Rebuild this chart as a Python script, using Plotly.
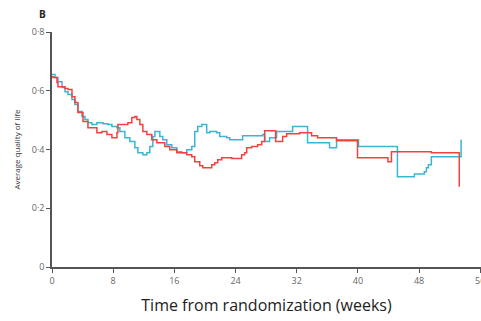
import plotly.graph_objects as go

# Blue arm (weeks, average QoL)
blue_weeks = [0, 0.39, 0.78, 1.31, 1.70, 2.09, 2.61, 3.00, 3.39, 3.92, 4.31, 4.70, 5.22, 5.87,
              6.27, 6.66, 7.31, 7.83, 8.49, 8.88, 9.53, 10.18, 10.84, 11.23, 11.88, 12.40,
              12.79, 13.19, 13.45, 13.84, 14.10, 14.49, 15.01, 15.67, 16.32, 16.97, 17.62,
              18.28, 18.67, 19.06, 19.58, 20.23, 20.63, 21.54, 21.93, 22.85, 23.24, 24.93,
              27.55, 27.81, 28.46, 29.37, 31.46, 33.42, 36.29, 37.21, 40.08, 45.17, 47.39,
              48.69, 48.96, 49.22, 49.61, 53.5]
blue_qol = [0.655, 0.645, 0.631, 0.611, 0.597, 0.587, 0.570, 0.553, 0.529, 0.512, 0.502, 0.491,
            0.485, 0.491, 0.491, 0.488, 0.485, 0.478, 0.474, 0.461, 0.440, 0.427, 0.406, 0.389,
            0.382, 0.389, 0.410, 0.444, 0.461, 0.461, 0.444, 0.433, 0.416, 0.406, 0.392, 0.389,
            0.399, 0.410, 0.461, 0.478, 0.485, 0.457, 0.461, 0.457, 0.444, 0.440, 0.433, 0.447,
            0.451, 0.427, 0.440, 0.461, 0.478, 0.423, 0.406, 0.433, 0.410, 0.307, 0.317,
            0.324, 0.338, 0.348, 0.375, 0.433]

# Red arm
red_weeks = [0, 0.13, 0.65, 0.78, 1.70, 2.09, 2.61, 3.00, 3.39, 4.05, 4.70, 5.87, 6.53, 7.18,
             7.83, 8.49, 8.62, 9.92, 10.44, 10.84, 11.10, 11.49, 11.88, 12.40, 13.05, 13.71,
             14.75, 15.40, 16.32, 17.62, 18.28, 18.67, 19.32, 19.71, 20.89, 21.28, 21.67,
             22.19, 23.50, 24.80, 25.20, 25.46, 26.11, 26.89, 27.42, 27.81, 29.24, 30.16,
             30.68, 32.38, 33.94, 34.73, 37.21, 39.95, 43.93, 44.39, 49.61, 53.26]
red_qol = [0.648, 0.645, 0.628, 0.614, 0.608, 0.604, 0.580, 0.560, 0.526, 0.495, 0.474, 0.457,
           0.461, 0.451, 0.440, 0.457, 0.485, 0.491, 0.509, 0.512, 0.502, 0.485, 0.461, 0.451,
           0.433, 0.423, 0.410, 0.399, 0.389, 0.382, 0.375, 0.358, 0.345, 0.338, 0.348, 0.355,
           0.365, 0.372, 0.369, 0.382, 0.389, 0.406, 0.410, 0.416, 0.427, 0.464, 0.427, 0.444,
           0.454, 0.457, 0.447, 0.440, 0.430, 0.372, 0.358, 0.392, 0.389, 0.273]

x_ticks = [0, 8, 16, 24, 32, 40, 48, 56]
y_ticks = [0, 0.2, 0.4, 0.6, 0.8]
y_tick_labels = ["0", "0·2", "0·4", "0·6", "0·8"]

fig = go.Figure()
fig.add_trace(go.Scatter(x=blue_weeks, y=blue_qol, mode="lines", line_shape="hv",
                         line=dict(color="#3AB5D3", width=1.5), showlegend=False))
fig.add_trace(go.Scatter(x=red_weeks, y=red_qol, mode="lines", line_shape="hv",
                         line=dict(color="#F0433F", width=1.5), showlegend=False))

fig.update_layout(
    width=481, height=321,
    margin=dict(l=52, r=0, t=32, b=54),
    paper_bgcolor="white", plot_bgcolor="white",
    font=dict(family="Open Sans, DejaVu Sans, sans-serif", color="#555"),
    xaxis=dict(range=[0, 56.1], tickvals=x_ticks, ticks="outside", ticklen=4,
               tickcolor="#555", showline=True, linecolor="#555", linewidth=1.5,
               showgrid=False, zeroline=False, tickfont=dict(size=9, color="#666"),
               ticklabeloverflow="allow", automargin=False,
               title=dict(text="Time from randomization (weeks)",
                          font=dict(size=16, color="#222"), standoff=14)),
    yaxis=dict(range=[0, 0.8], tickvals=y_ticks, ticktext=y_tick_labels, ticks="outside",
               ticklen=4, tickcolor="#555", showline=True, linecolor="#555", linewidth=1.5,
               showgrid=False, zeroline=False, tickfont=dict(size=9, color="#666"),
               automargin=False,
               title=dict(text="Average quality of life", font=dict(size=8, color="#333"),
                          standoff=10)),
    annotations=[dict(text="<b>B</b>", x=(42 - 52) / 429, y=(267 - 14) / 235,
                      xref="paper", yref="paper", xanchor="center", yanchor="middle",
                      showarrow=False, font=dict(size=10, color="#222"))],
)

fig.write_html("out.html")
